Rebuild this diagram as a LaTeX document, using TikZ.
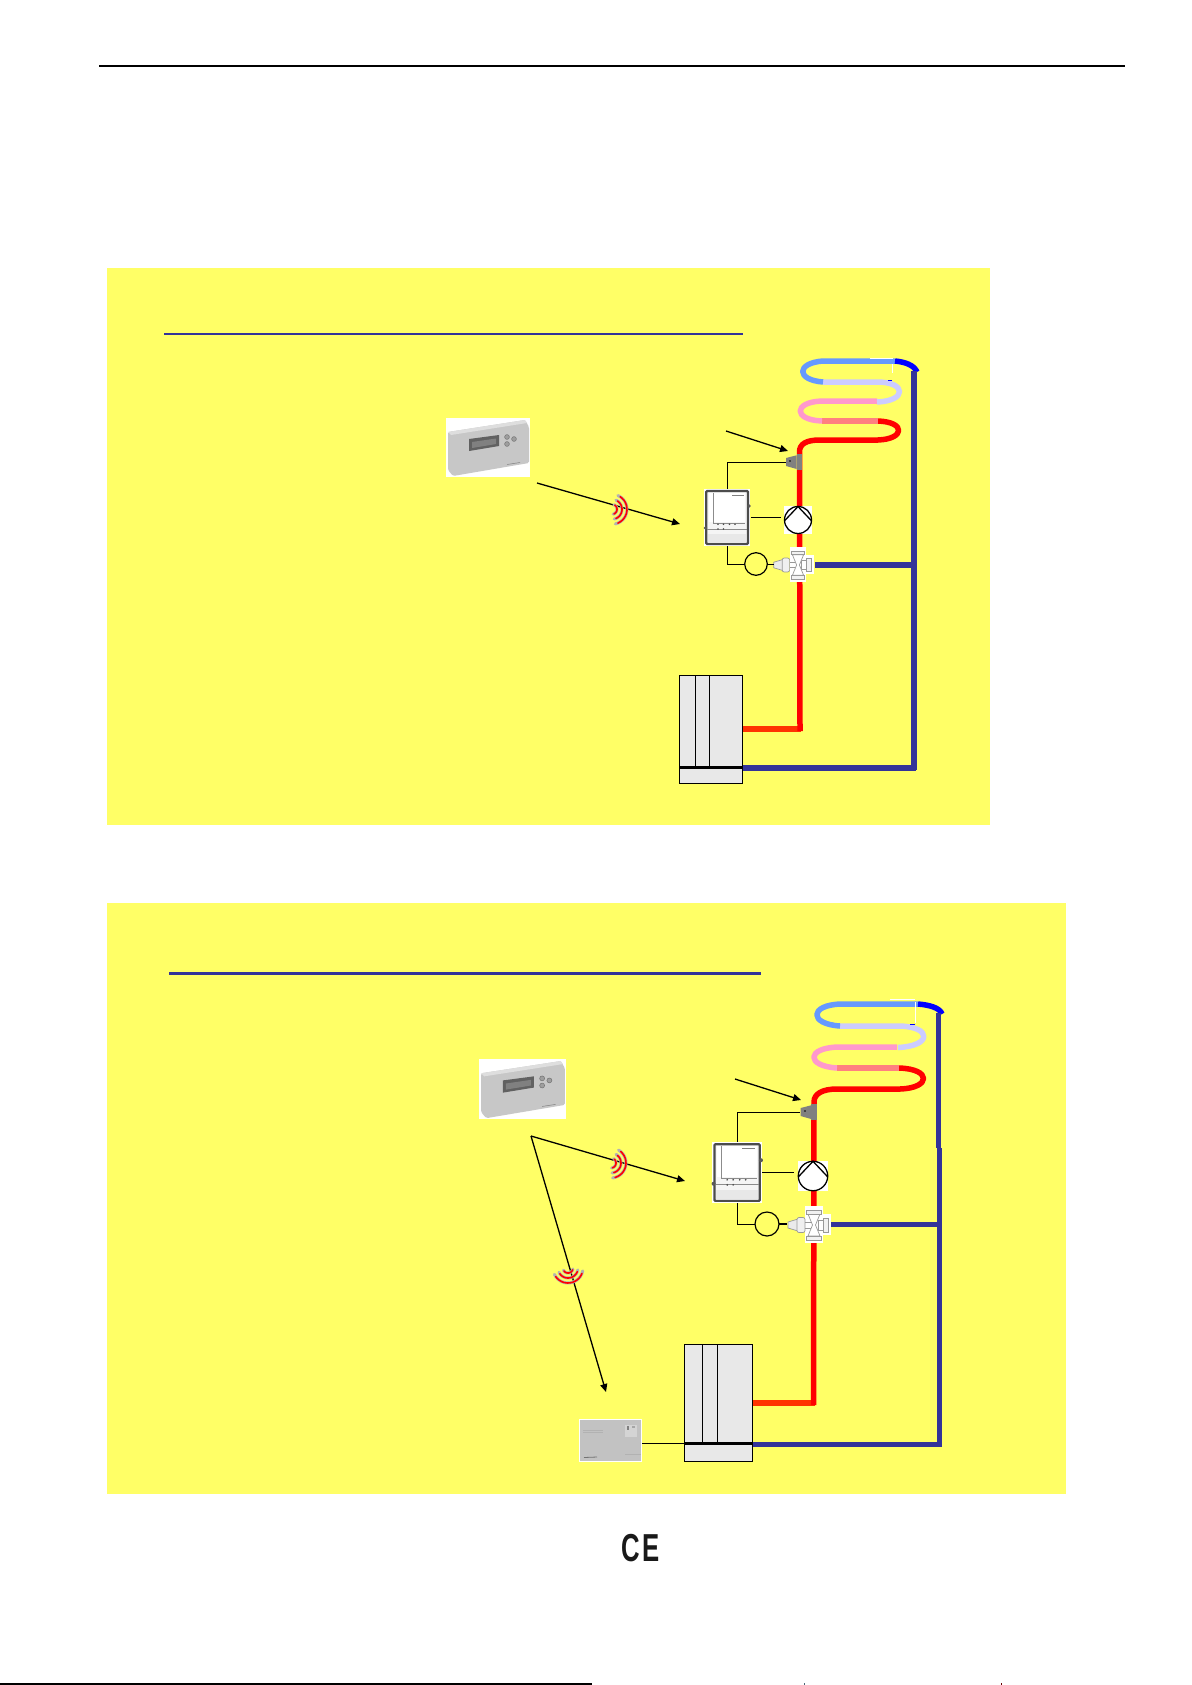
\documentclass[tikz,border=0pt]{standalone}
\usepackage{fontspec}
\setmainfont{Liberation Sans}
\usetikzlibrary{arrows.meta}
\definecolor{panelY}{HTML}{FFFF66}
\definecolor{navy}{HTML}{333399}
\definecolor{coilBlue}{HTML}{6699FF}
\definecolor{coilLilac}{HTML}{CCCCFF}
\definecolor{coilPink}{HTML}{FF99CC}
\definecolor{coilSalmon}{HTML}{FF8080}
\definecolor{pipeOrange}{HTML}{FF3300}
\definecolor{boilerGrey}{HTML}{E8E8E8}
\pgfdeclarelayer{panel}
\pgfdeclarelayer{pipe}
\pgfsetlayers{panel,pipe,main}
\tikzset{
  panelbox/.style={fill=panelY,draw=none},
  titlerule/.style={draw=navy,line width=2.4pt},
  piperun/.style={line width=5.5pt,line cap=butt,line join=round},
  wire/.style={draw=black,line width=1pt},
  radio/.style={draw=black,line width=1.3pt,-{Triangle[length=8pt,width=7pt]}},
  devbox/.style={draw=none,fill=white,inner sep=0pt,outer sep=0pt,minimum width=#1},
  acticon/.style={circle,draw=black,line width=1.2pt,inner sep=0pt,outer sep=0pt,minimum size=#1},
  boilerbody/.style={draw=black,line width=1pt,fill=boilerGrey},
  thermo/.pic={
    \fill[white] (0,0) rectangle (84,59);
    \fill[black!22,rounded corners=1.5pt] (2,14) -- (79,2) -- (83,9) -- (83,45) -- (7,58) -- (2,52) -- cycle;
    \fill[black!13] (2,14) -- (79,2) -- (81,5) -- (5,17) -- cycle;
    \fill[black!62] (23,21) -- (53,17) -- (53,28) -- (23,33) -- cycle;
    \fill[black!50] (26,24) -- (50,20.5) -- (50,26) -- (26,30) -- cycle;
    \foreach \bx/\by in {61/19,68/21,61/26}
      \filldraw[fill=black!38,draw=black!55,line width=.5pt] (\bx,\by) circle (2.4pt);
    \draw[black!50,line width=.5pt] (61,46.5) -- (74,44.5);
  },
  ctrlbox/.pic={
    \fill[white] (0,0) rectangle (46,57);
    \filldraw[fill=black!4,draw=black!70,line width=2.2pt,rounded corners=1pt] (2.2,2) rectangle (44,55);
    \fill[white] (5,4) rectangle (41,33);
    \fill[black!9] (4,45) rectangle (42,53.5);
    \draw[black!45,line width=.7pt] (9,4) -- (9,34) -- (41,34);
    \draw[black!45,line width=.7pt] (3,40) -- (43,40);
    \foreach \dx in {14,19.5,25.5,31} \fill[black!70] (\dx,35.3) circle (.9pt);
    \foreach \dx in {14,19.5} \fill[black!70] (\dx,40) circle (.9pt);
    \fill[black!65] (45,17) circle (1.9pt);
    \fill[black!65] (1.5,39) circle (1.9pt);
    \draw[black!50,line width=.8pt] (28,6) -- (40,6);
  },
  pumpsym/.pic={
    \draw[black,line width=1.3pt] (0,0) circle (13.5pt);
    \draw[black,line width=1.3pt] (-13.2,.5) -- (0,-13.5) -- (13.2,.5);
  },
  valvesym/.pic={
    \fill[white] (-9,-19) rectangle (9,18);
    \fill[white] (9,-11) rectangle (17,10);
    \tikzset{vp/.style={fill=white,draw=black!40,line width=.7pt}};
    \filldraw[fill=black!8,draw=black!40,line width=.7pt] (-26,-3) -- (-16,-6) -- (-16,6) -- (-26,3) -- cycle;
    \filldraw[fill=black!6,draw=black!40,line width=.7pt,rounded corners=2pt] (-17,-7.5) rectangle (-9,7.5);
    \draw[vp] (-9,-3) -- (-3,-3) (-9,3) -- (-3,3);
    \draw[vp] (4,-5) rectangle (9,5);
    \filldraw[fill=black!5,draw=black!40,line width=.7pt] (9,-7) rectangle (14,7);
    \draw[vp] (-6,-11) -- (6,-11) -- (1.5,0) -- (6,11) -- (-6,11) -- (-1.5,0) -- cycle;
    \filldraw[fill=black!5,draw=black!40,line width=.7pt] (-7.5,-15) rectangle (7,-11);
    \filldraw[fill=black!5,draw=black!40,line width=.7pt] (-7.5,11) rectangle (7,15);
  },
  sensorsym/.pic={
    \fill[black!50] (2.7,-8) rectangle (8,8);
    \fill[black!50] (-8,-4) -- (2.7,-6.7) -- (2.7,7) -- (-8,4) -- cycle;
    \fill[black!75] (-5,-2) rectangle (-3,0);
  },
  wavesym/.pic={
    \foreach \wr in {5,10,15} {
      \draw[black!30,line width=3pt,line cap=round] plot[domain=-72:72,samples=13,smooth] ({\wr*cos(\x)},{\wr*sin(\x)});
      \draw[red,line width=1.6pt,line cap=round] plot[domain=-62:62,samples=13,smooth] ({\wr*cos(\x)},{\wr*sin(\x)});
    }
  },
  receiverbox/.pic={
    \fill[white] (0,0) rectangle (63,43);
    \fill[black!24] (1,1) rectangle (62,42);
    \draw[black!30,line width=.6pt] (4,11) -- (24,11) (4,13.5) -- (24,13.5) (46,35) -- (62,35);
    \fill[black!17] (46,6) rectangle (58,18);
    \fill[black!50] (48,7) rectangle (50,11);
    \fill[black!35] (53,7) rectangle (56,9);
    \draw[black!55,line width=.8pt] (5,38.5) -- (18,38);
  }
}
\begin{document}
\begin{tikzpicture}[x=1pt,y=-1pt]
\useasboundingbox (0,0) rectangle (1191,1685);

% page rules
\coordinate (ruleAl) at (99,66.5); \coordinate (ruleAr) at (1125,66.5);
\coordinate (ruleBl) at (0,1684); \coordinate (ruleBr) at (592,1684);
\draw[black,line width=2pt] (ruleAl) -- (ruleAr);
\draw[black,line width=1.5pt] (ruleBl) -- (ruleBr);
\fill[black!60!cyan] (804,1683) rectangle (805,1685);
\fill[black!60!red] (1001,1683) rectangle (1002,1685);

% panels
\begin{pgfonlayer}{panel}
  \fill[panelbox] (107,268) rectangle (990,825);
  \fill[panelbox] (107,903) rectangle (1066,1494);
\end{pgfonlayer}
\coordinate (ulAl) at (164,334); \coordinate (ulAr) at (743,334);
\coordinate (ulBl) at (169,973.5); \coordinate (ulBr) at (761,973.5);
\draw[titlerule] (ulAl) -- (ulAr);
\draw[titlerule] (ulBl) -- (ulBr);

% ===== upper panel =====
\node[devbox=84pt,minimum height=59pt,fill=none] (thermoA) at (488,447.5) {};
\pic at (446,418) {thermo};
\node[devbox=46pt,minimum height=57pt] (ctrlA) at (727,517.5) {};
\pic at (704,489) {ctrlbox};
\node[devbox=28pt,minimum height=28pt] (pumpA) at (798,520) {};
\pic at (798,520) {pumpsym};
\node[devbox=16pt,minimum height=16pt,fill=none] (sensA) at (794,462) {};
\pic at (794,462) {sensorsym};
\node[devbox=34pt,minimum height=37pt,fill=none] (valveA) at (798,565) {};
\pic[scale=.93] at (798,565) {valvesym};
\node[acticon=22.6pt,fill=panelY] (actA) at (756,564) {};
\node[boilerbody,inner sep=0pt,outer sep=0pt,minimum width=63pt,minimum height=108pt] (boilerA) at (711,729) {};
\draw[black,line width=1pt] (695.5,675) -- (695.5,767) (709.5,675) -- (709.5,767);
\draw[black,line width=3pt] (680,767) -- (743,767);

\begin{pgfonlayer}{pipe}
  \coordinate (hotA) at (743,729); \coordinate (retA) at (743,768);
  \draw[pipeOrange,piperun] (hotA) -- (801,729);
  \draw[red,piperun] (800,731) -- (799.5,452) .. controls (799.5,444) and (806,440) .. (820,440) -- (878,440)
     .. controls (905,439) and (906,422) .. (878,421);
  \draw[coilSalmon,piperun] (878,421) -- (822,421);
  \draw[coilPink,piperun] (822,421) .. controls (793,420) and (793,402) .. (822,401) -- (877,401);
  \draw[coilLilac,piperun] (877,402) .. controls (907,401) and (907,382) .. (877,382) -- (823,382);
  \draw[coilBlue,piperun] (823,382) .. controls (796,380) and (796,363) .. (823,361) -- (895,361);
  \draw[blue,piperun] (895,361) .. controls (905,362) and (914,365) .. (917,372);
  \draw[navy,piperun] (914,371) -- (914,770);
  \draw[navy,piperun] (retA) -- (916,768);
  \draw[navy,piperun] (valveA.east) -- (914,565);
  \draw[white,line width=.6pt] (892.7,364) -- (892.7,373);
  \draw[white,line width=.6pt] (870,358) -- (893,358);
  \draw[blue,line width=.7pt] (888,380.5) -- (892,380.5);
\end{pgfonlayer}

\draw[wire] (ctrlA.north) |- (sensA.west);
\draw[wire,shorten >=3pt,shorten <=1pt] (ctrlA.east) -- (pumpA.west |- ctrlA.east);
\draw[wire] (ctrlA.south) |- (actA.west);
\draw[wire] (actA.east) -- (774,564);
\coordinate (sensTailA) at (726,431); \coordinate (sensTipA) at (788,451);
\draw[radio] (sensTailA) -- (sensTipA);
\coordinate (tailA) at (537,483); \coordinate (tipA) at (680,524);
\draw[radio] (tailA) -- (tipA);
\pic[rotate=-5] at (612,509.3) {wavesym};

% ===== lower panel =====
\node[devbox=87pt,minimum height=60pt,fill=none] (thermoB) at (522.5,1089) {};
\pic[xscale=1.035,yscale=1.02] at (479,1059) {thermo};
\node[devbox=50pt,minimum height=61pt] (ctrlB) at (737,1172.5) {};
\pic[xscale=1.087,yscale=1.07] at (712,1142) {ctrlbox};
\node[devbox=30pt,minimum height=30pt] (pumpB) at (813,1176) {};
\pic[scale=1.09] at (813,1176) {pumpsym};
\node[devbox=17pt,minimum height=17pt,fill=none] (sensB) at (808.5,1112.5) {};
\pic at (808.5,1112) {sensorsym};
\node[devbox=36pt,minimum height=37pt,fill=none] (valveB) at (813,1224.5) {};
\pic at (814,1225) {valvesym};
\node[acticon=24pt,fill=panelY] (actB) at (767,1224) {};
\node[boilerbody,inner sep=0pt,outer sep=0pt,minimum width=68pt,minimum height=117pt] (boilerB) at (718,1402.5) {};
\draw[black,line width=1pt] (702,1344) -- (702,1443) (717,1344) -- (717,1443);
\draw[black,line width=3pt] (684,1443.5) -- (752,1443.5);
\node[devbox=63pt,minimum height=43pt,fill=none] (recvB) at (610.5,1440.5) {};
\pic at (579,1419) {receiverbox};
\coordinate (recvPort) at (642,1443.5);
\coordinate (boilerPort) at (684,1443.5);
\draw[wire] (recvPort) -- (boilerPort);

\begin{pgfonlayer}{pipe}
  \coordinate (hotB) at (752,1403); \coordinate (retB) at (752,1444.5);
  \draw[pipeOrange,piperun] (hotB) -- (815,1403);
  \draw[red,piperun] (813.5,1405) -- (814,1102) .. controls (814,1094) and (822,1089) .. (837,1089) -- (900,1089)
     .. controls (931,1088) and (932,1069) .. (899,1068);
  \draw[coilSalmon,piperun] (899,1068) -- (837,1068);
  \draw[coilPink,piperun] (837,1068) .. controls (806,1066) and (806,1048) .. (838,1047) -- (897,1047);
  \draw[coilLilac,piperun] (898,1047.5) .. controls (932,1046) and (932,1027) .. (900,1026) -- (840,1026);
  \draw[coilBlue,piperun] (840,1026) .. controls (809,1024) and (809,1005) .. (841,1004) -- (918,1004);
  \draw[blue,piperun] (918,1004) .. controls (930,1005) and (940,1008) .. (942,1014);
  \draw[navy,piperun] (938.5,1013) -- (938.5,1148);
  \draw[navy,piperun] (939.5,1148) -- (939.5,1446);
  \draw[navy,piperun] (retB) -- (942,1444.5);
  \draw[navy,piperun] (valveB.east) -- (939,1224.5);
  \draw[white,line width=.6pt] (915,1002) -- (915,1023);
  \draw[white,line width=.6pt] (890,999.5) -- (915,999.5);
  \draw[blue,line width=.7pt] (910,1024) -- (915,1024);
\end{pgfonlayer}

\draw[wire] (ctrlB.north) |- (sensB.west);
\draw[black,line width=1.8pt,shorten >=4pt] (ctrlB.east) -- (pumpB.west |- ctrlB.east);
\draw[wire] (ctrlB.south) |- (actB.west);
\draw[black,line width=1.5pt] (actB.east) -- (787,1224);
\coordinate (sensTailB) at (735,1079); \coordinate (sensTipB) at (801,1100);
\draw[radio] (sensTailB) -- (sensTipB);
\coordinate (forkB) at (531,1136);
\coordinate (tipB) at (685,1181);
\coordinate (tipC) at (606,1392);
\draw[radio] (forkB) -- (tipB);
\draw[radio] (forkB) -- (tipC);
\pic[rotate=-12] at (611,1163) {wavesym};
\pic[rotate=-83] at (568,1268) {wavesym};

% CE mark
\node[inner sep=0pt,text=black!90,font=\bfseries\fontsize{39pt}{39pt}\selectfont] (ce) at (640.5,1548)
  {\scalebox{.66}[1]{C\kern 3pt E}};
\end{tikzpicture}
\end{document}
